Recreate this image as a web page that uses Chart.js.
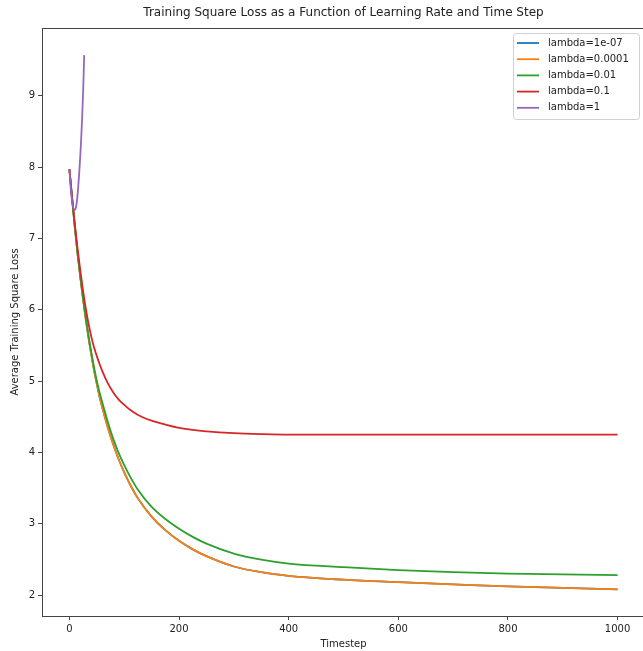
<!DOCTYPE html>
<html>
<head>
<meta charset="utf-8">
<script src="https://cdn.jsdelivr.net/npm/chart.js@4"></script>
<style>
  body { margin: 0; overflow: hidden; background: #fff; }
</style>
</head>
<body>
<canvas id="canvas1" width="645" height="651"></canvas>
<script>
// timesteps and losses
var steps = [0, 5, 10, 15, 20, 25, 30, 35, 40, 45, 50, 55, 60, 70, 80, 90, 100, 110, 125, 150, 175, 200, 225, 250, 300, 350, 400, 500, 600, 700, 800, 900, 1000];
var loss1e7 = [7.97, 7.55, 7.15, 6.78, 6.45, 6.14, 5.86, 5.60, 5.37, 5.15, 4.96, 4.78, 4.63, 4.35, 4.11, 3.90, 3.72, 3.56, 3.355, 3.10, 2.91, 2.76, 2.64, 2.545, 2.40, 2.32, 2.27, 2.215, 2.18, 2.15, 2.12, 2.10, 2.08];
var loss1e4 = [7.97, 7.55, 7.15, 6.78, 6.45, 6.14, 5.86, 5.60, 5.37, 5.15, 4.96, 4.78, 4.63, 4.35, 4.11, 3.90, 3.72, 3.56, 3.355, 3.10, 2.91, 2.76, 2.64, 2.545, 2.40, 2.32, 2.27, 2.215, 2.18, 2.15, 2.12, 2.10, 2.08];
var loss001 = [7.97, 7.55, 7.15, 6.79, 6.46, 6.16, 5.88, 5.63, 5.40, 5.19, 5.00, 4.84, 4.70, 4.43, 4.19, 3.99, 3.82, 3.67, 3.475, 3.235, 3.065, 2.93, 2.815, 2.72, 2.58, 2.495, 2.44, 2.39, 2.35, 2.32, 2.30, 2.29, 2.28];
var loss01 = [7.97, 7.57, 7.19, 6.85, 6.54, 6.26, 6.01, 5.80, 5.62, 5.47, 5.35, 5.24, 5.14, 4.97, 4.84, 4.74, 4.665, 4.60, 4.525, 4.445, 4.39, 4.345, 4.315, 4.295, 4.27, 4.257, 4.25, 4.25, 4.25, 4.25, 4.25, 4.25, 4.25];
var stepsLam1 = [0, 3, 6, 9, 11, 13, 15, 17, 19, 21, 23, 25, 27];
var lossLam1 = [7.97, 7.65, 7.47, 7.40, 7.41, 7.48, 7.62, 7.82, 8.05, 8.32, 8.65, 9.05, 9.57];

var labels = ["lambda=1e-07", "lambda=0.0001", "lambda=0.01", "lambda=0.1", "lambda=1"];
var colors = ["#1f77b4", "#ff7f0e", "#2ca02c", "#d62728", "#9467bd"];
var xTicks = [0, 200, 400, 600, 800, 1000];
var yTicks = [2, 3, 4, 5, 6, 7, 8, 9];

function pts(xs, ys) {
  return xs.map(function (x, i) { return { x: x, y: ys[i] }; });
}

var series = [pts(steps, loss1e7), pts(steps, loss1e4), pts(steps, loss001), pts(steps, loss01), pts(stepsLam1, lossLam1)];

var FONT = "'DejaVu Sans', sans-serif";

// box round the axes + matplotlib style legend
var framePlugin = {
  id: 'frame',
  afterDraw: function (chart) {
    var ctx = chart.ctx, a = chart.chartArea;
    ctx.save();
    ctx.strokeStyle = '#444';
    ctx.lineWidth = 1;
    ctx.strokeRect(a.left + 0.5, a.top + 0.5, a.right - a.left, a.bottom - a.top);

    // legend
    var bx = 513, by = 33, bw = 126, bh = 86;
    ctx.fillStyle = 'rgba(255,255,255,0.8)';
    ctx.strokeStyle = '#d0d0d0';
    ctx.beginPath();
    ctx.roundRect(bx + 0.5, by + 0.5, bw, bh, 3);
    ctx.fill();
    ctx.stroke();
    ctx.font = '10px ' + FONT;
    ctx.textBaseline = 'middle';
    chart.data.datasets.forEach(function (ds, i) {
      var y = by + 10 + i * 16.2;
      ctx.strokeStyle = ds.borderColor;
      ctx.lineWidth = 1.8;
      ctx.beginPath();
      ctx.moveTo(517, y);
      ctx.lineTo(539, y);
      ctx.stroke();
      ctx.fillStyle = '#222';
      ctx.fillText(ds.label, 548, y);
    });
    ctx.restore();
  }
};

new Chart(document.getElementById('canvas1'), {
  type: 'line',
  data: {
    datasets: series.map(function (d, i) {
      return {
        label: labels[i],
        data: d,
        borderColor: colors[i],
        backgroundColor: colors[i],
        borderWidth: 1.8,
        pointRadius: 0,
        cubicInterpolationMode: 'monotone',
        fill: false,
        order: labels.length - i   // later series on top, like matplotlib
      };
    })
  },
  options: {
    responsive: false,
    animation: false,
    layout: { padding: 0 },
    plugins: {
      legend: { display: false },
      tooltip: { enabled: false },
      title: {
        display: true,
        fullSize: false,
        text: 'Training Square Loss as a Function of Learning Rate and Time Step',
        color: '#222',
        font: { family: FONT, size: 12, weight: 'normal' },
        padding: { top: 6, bottom: 7.6 }
      }
    },
    scales: {
      x: {
        type: 'linear',
        min: -50,
        max: 1050,
        afterBuildTicks: function (s) { s.ticks = xTicks.map(function (v) { return { value: v }; }); },
        afterFit: function (s) { s.height = 35; },
        ticks: {
          color: '#222', font: { family: FONT, size: 10 }, padding: 3, maxRotation: 0, autoSkip: false,
          callback: function (v) { return String(v); }
        },
        grid: { drawOnChartArea: false, drawTicks: true, tickLength: 4, color: '#444' },
        border: { display: false },
        title: { display: true, text: 'Timestep', color: '#222', font: { family: FONT, size: 10 }, padding: { top: 0, bottom: 1 } }
      },
      y: {
        min: 1.706,
        max: 9.95,
        afterBuildTicks: function (s) { s.ticks = yTicks.map(function (v) { return { value: v }; }); },
        afterFit: function (s) { s.width = 42; },
        ticks: { color: '#222', font: { family: FONT, size: 10 }, padding: 3 },
        grid: { drawOnChartArea: false, drawTicks: true, tickLength: 4, color: '#444' },
        border: { display: false },
        title: { display: true, text: 'Average Training Square Loss', color: '#222', font: { family: FONT, size: 10 }, padding: { top: 9, bottom: 0 } }
      }
    }
  },
  plugins: [framePlugin]
});
</script>
</body>
</html>
